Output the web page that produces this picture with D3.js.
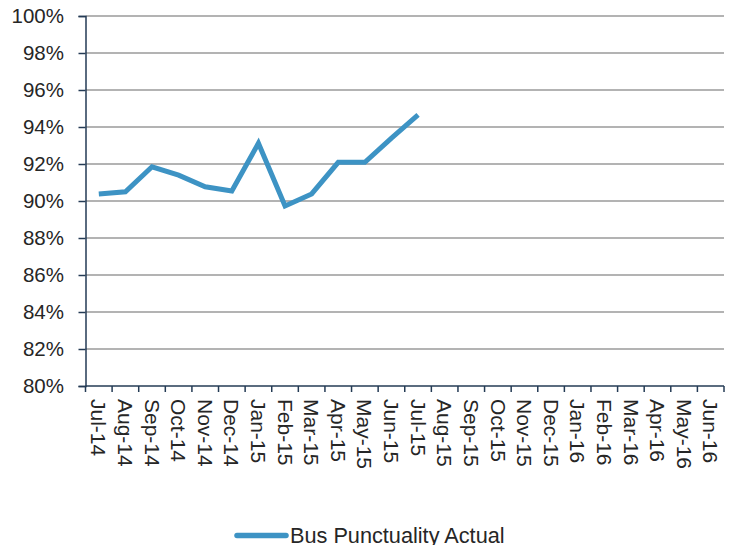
<!DOCTYPE html>
<html>
<head>
<meta charset="utf-8">
<script src="https://cdn.jsdelivr.net/npm/d3@7"></script>
<style>
  html, body { margin: 0; padding: 0; background: #fff; }
  svg { display: block; }
  text { font-family: "Liberation Sans", Arial, sans-serif; fill: #262626; }
</style>
</head>
<body>
<svg id="chart" width="729" height="545"></svg>
<script>
// Monthly categories on the x axis
const months = ["Jul-14","Aug-14","Sep-14","Oct-14","Nov-14","Dec-14","Jan-15","Feb-15","Mar-15","Apr-15","May-15","Jun-15","Jul-15",
                "Aug-15","Sep-15","Oct-15","Nov-15","Dec-15","Jan-16","Feb-16","Mar-16","Apr-16","May-16","Jun-16"];
// Actual bus punctuality (fraction on time), reported months only
const actual = [0.9038, 0.9050, 0.9185, 0.9140, 0.9077, 0.9054, 0.9312, 0.8973, 0.9038, 0.9209, 0.9209, 0.9340, 0.9465];
// Y axis tick values
const yTicks = [0.80, 0.82, 0.84, 0.86, 0.88, 0.90, 0.92, 0.94, 0.96, 0.98, 1.00];
const seriesName = "Bus Punctuality Actual";

const svg = d3.select("#chart");
const plotLeft = 85.5, plotRight = 724, plotTop = 16, plotBottom = 386;

const x = d3.scaleBand().domain(months).range([plotLeft, plotRight]);
const y = d3.scaleLinear().domain([0.8, 1.0]).range([plotBottom, plotTop]);

// Horizontal gridlines
svg.append("g")
  .selectAll("line")
  .data(yTicks.slice(1))
  .join("line")
  .attr("x1", plotLeft).attr("x2", plotRight)
  .attr("y1", d => y(d)).attr("y2", d => y(d))
  .attr("stroke", "#9a9a9a").attr("stroke-width", 1.5);

// Y axis
const yAxis = svg.append("g")
  .attr("transform", `translate(${plotLeft},0)`)
  .call(d3.axisLeft(y).tickValues(yTicks).tickFormat(d3.format(".0%")).tickSize(7).tickPadding(14.5));
yAxis.select(".domain").attr("stroke", "#243b55").attr("stroke-width", 1.5);
yAxis.selectAll(".tick line").attr("stroke", "#243b55").attr("stroke-width", 1.5);
yAxis.selectAll("text").attr("font-size", 20.5).attr("fill", "#262626")
  .attr("font-family", "Liberation Sans, Arial, sans-serif");

// X axis with ticks at category boundaries
const xAxisG = svg.append("g").attr("transform", `translate(0,${plotBottom})`);
xAxisG.append("line")
  .attr("x1", plotLeft).attr("x2", plotRight)
  .attr("stroke", "#243b55").attr("stroke-width", 1.5);
const bounds = months.map(m => x(m)).concat([plotRight]);
xAxisG.selectAll("line.tk")
  .data(bounds)
  .join("line").attr("class", "tk")
  .attr("x1", d => d).attr("x2", d => d)
  .attr("y1", 0).attr("y2", 6)
  .attr("stroke", "#243b55").attr("stroke-width", 1.5);
xAxisG.selectAll("text")
  .data(months)
  .join("text")
  .attr("transform", d => `translate(${x(d) + x.bandwidth() / 2},13) rotate(90)`)
  .attr("dy", "0.35em")
  .attr("font-size", 21)
  .attr("text-anchor", "start")
  .text(d => d);

// Data line
const line = d3.line()
  .x((d, i) => x(months[i]) + x.bandwidth() / 2)
  .y(d => y(d));
svg.append("path")
  .datum(actual)
  .attr("d", line)
  .attr("fill", "none")
  .attr("stroke", "#3d93c4")
  .attr("stroke-width", 5)
  .attr("stroke-linejoin", "miter");

// Legend
const lg = svg.append("g").attr("transform", "translate(237,535.5)");
lg.append("line").attr("x1", 0).attr("x2", 49).attr("y1", 0).attr("y2", 0)
  .attr("stroke", "#3d93c4").attr("stroke-width", 5.5).attr("stroke-linecap", "round");
lg.append("text").attr("x", 53).attr("y", 7.5).attr("font-size", 21.7).text(seriesName);
</script>
</body>
</html>
